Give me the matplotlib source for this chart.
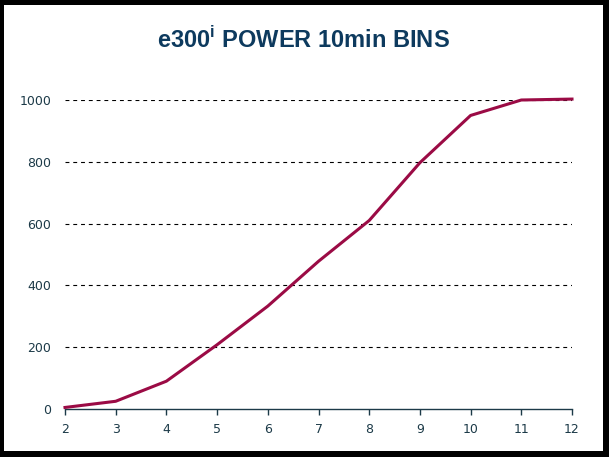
import matplotlib
matplotlib.use("Agg")
import matplotlib.pyplot as plt
from matplotlib.patches import Rectangle

wind_speed = [2, 3, 4, 5, 6, 7, 8, 9, 10, 11, 12]
power = [5, 25, 90, 208, 333, 478, 610, 797, 950, 1000, 1003]
y_ticks = [0, 200, 400, 600, 800, 1000]
title = r"e300$^{\mathregular{i}}$ POWER 10min BINS"

W, H = 609, 457
fig = plt.figure(figsize=(W / 100, H / 100), dpi=100, facecolor="black")
fig.patches.append(Rectangle((4 / W, 1 - 451 / H), (603 - 4) / W, (451 - 5) / H,
                             transform=fig.transFigure, facecolor="white",
                             edgecolor="none", zorder=-10))

left, right = 65 / W, 572 / W
bottom, top = 1 - 409 / H, 1 - 100 / H
ax = fig.add_axes([left, bottom, right - left, top - bottom])
ax.set_zorder(5)
ax.set_facecolor("none")

ax.plot(wind_speed, power, color="#9b0b45", linewidth=2.2, clip_on=False, zorder=3)

ax.set_xlim(2, 12)
ax.set_ylim(0, 1000)
ax.set_xticks(wind_speed)
ax.set_yticks(y_ticks)

for y in y_ticks[1:]:
    ax.axhline(y, color="black", linewidth=0.8, linestyle=(0, (3.5, 3.5)), zorder=1)

for s in ["top", "right", "left"]:
    ax.spines[s].set_visible(False)
ax.spines["bottom"].set_color("#1c3a48")
ax.spines["bottom"].set_linewidth(1.0)

ax.tick_params(axis="x", direction="out", length=4, width=1, color="#1c3a48",
               labelsize=9, labelcolor="#1c3a48", pad=6)
ax.tick_params(axis="y", length=0, labelsize=9, labelcolor="#1c3a48", pad=10)
for lab in ax.get_xticklabels() + ax.get_yticklabels():
    lab.set_family("DejaVu Sans")

t = fig.text(303 / W, 1 - 40 / H, title, ha="center", va="center",
             fontsize=17, fontweight="bold", color="#0d3a5e",
             family="Liberation Sans", zorder=6)

fig.savefig("out.png", dpi=100, facecolor="black")
